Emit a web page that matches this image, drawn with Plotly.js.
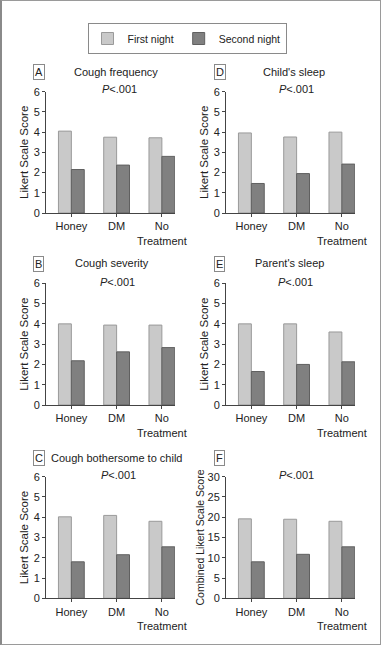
<!DOCTYPE html>
<html>
<head>
<meta charset="utf-8">
<script src="https://cdn.plot.ly/plotly-3.0.1.min.js"></script>
<style>
html,body{margin:0;padding:0;background:#fff;}
#wrap{position:relative;width:381px;height:645px;}
#chart{position:absolute;left:0;top:0;width:381px;height:645px;}
#frame{position:absolute;left:0;top:0;width:381px;height:645px;box-sizing:border-box;border:1px solid #9a9a9a;border-left:2px solid #8a8a8a;pointer-events:none;}
</style>
</head>
<body>
<div id="wrap"><div id="chart"></div><div id="frame"></div></div>
<script>
// ---- data ----
const categories = ["Honey", "DM", "No<br>Treatment"];
const seriesNames = ["First night", "Second night"];
const panelLetters = ["A", "D", "B", "E", "C", "F"];
const panelTitles = ["Cough frequency", "Child's sleep", "Cough severity", "Parent's sleep", "Cough bothersome to child", ""];
const yTitles = ["Likert Scale Score", "Likert Scale Score", "Likert Scale Score", "Likert Scale Score", "Likert Scale Score", "Combined Likert Scale Score"];
const pText = "<i>P</i>&lt;.001";
// values per panel (First night, Second night)
const coughFreqFirst = [4.05, 3.75, 3.72];
const coughFreqSecond = [2.15, 2.37, 2.8];
const childSleepFirst = [3.96, 3.76, 4.0];
const childSleepSecond = [1.46, 1.95, 2.42];
const coughSevFirst = [4.0, 3.94, 3.94];
const coughSevSecond = [2.18, 2.62, 2.83];
const parentSleepFirst = [4.0, 4.0, 3.6];
const parentSleepSecond = [1.65, 2.0, 2.13];
const botherFirst = [4.02, 4.09, 3.8];
const botherSecond = [1.8, 2.15, 2.54];
const combinedFirst = [19.6, 19.5, 19.0];
const combinedSecond = [9.0, 10.85, 12.7];
const yMax = [6, 6, 6, 6, 6, 30];
const yDtick = [1, 1, 1, 1, 1, 5];

// ---- layout geometry (pixels) ----
const W = 381, H = 645;
const colX = [[46, 175], [226, 355]];
const rowY = [[91.7, 213], [283.3, 405], [476.7, 598.3]];
const firstVals = [coughFreqFirst, childSleepFirst, coughSevFirst, parentSleepFirst, botherFirst, combinedFirst];
const secondVals = [coughFreqSecond, childSleepSecond, coughSevSecond, parentSleepSecond, botherSecond, combinedSecond];
const titleStandoff = [2, 2, 2, 2, 2, 0];
const titleSize = [11.5, 11.5, 11.5, 11.5, 11.5, 10.5];

const FONT = "'Liberation Sans', Arial, sans-serif";
const TXT = "#222";
const lightFill = "#c9c9c9", lightLine = "#9a9a9a";
const darkFill = "#808080", darkLine = "#606060";

const traces = [];
const layout = {
  width: W, height: H,
  margin: {l: 0, r: 0, t: 0, b: 0},
  paper_bgcolor: "#fff", plot_bgcolor: "#fff",
  font: {family: FONT, size: 11, color: TXT},
  barmode: "group", bargap: 0.43, bargroupgap: 0,
  showlegend: true,
  legend: {
    orientation: "h", x: 187 / W, xanchor: "center", y: 1 - 23 / H, yanchor: "top",
    bordercolor: "#8a8a8a", borderwidth: 1, bgcolor: "#fff",
    font: {family: FONT, size: 10.5, color: TXT}, itemwidth: 30, tracegroupgap: 0
  },
  annotations: [],
  shapes: []
};

const labelCenters = [[39, 72], [219.5, 72], [38.5, 264], [219, 264], [39, 458], [219, 458]];
const titleCenters = [[116.5, 72], [294, 72], [112, 263], [289.5, 263], [116.5, 458], [296, 458]];
const pCenters = [[119, 89], [296, 89], [117.5, 282], [295.5, 282], [118.5, 475], [296, 475]];

for (let i = 0; i < 6; i++) {
  const col = i % 2, row = Math.floor(i / 2);
  const sx = i === 0 ? "" : String(i + 1);
  const xa = "x" + sx, ya = "y" + sx;
  traces.push({
    type: "bar", name: seriesNames[0], x: categories, y: firstVals[i],
    xaxis: xa, yaxis: ya, legendgroup: "a", showlegend: i === 0,
    marker: {color: lightFill, line: {color: lightLine, width: 1}},
    hoverinfo: "y"
  });
  traces.push({
    type: "bar", name: seriesNames[1], x: categories, y: secondVals[i],
    xaxis: xa, yaxis: ya, legendgroup: "b", showlegend: i === 0,
    marker: {color: darkFill, line: {color: darkLine, width: 1}},
    hoverinfo: "y"
  });
  layout["xaxis" + sx] = {
    domain: [colX[col][0] / W, colX[col][1] / W],
    anchor: ya, type: "category", range: [-0.56, 2.29],
    showline: true, linecolor: "#444", linewidth: 1,
    ticks: "outside", ticklen: 3, tickcolor: "#444",
    showgrid: false, zeroline: false, fixedrange: true,
    tickfont: {family: FONT, size: 11, color: TXT}
  };
  layout["yaxis" + sx] = {
    domain: [1 - rowY[row][1] / H, 1 - rowY[row][0] / H],
    anchor: xa, range: [0, yMax[i]], dtick: yDtick[i], tick0: 0,
    showline: true, linecolor: "#444", linewidth: 1,
    ticks: "outside", ticklen: 3, tickcolor: "#444",
    showgrid: false, zeroline: false, fixedrange: true,
    tickfont: {family: FONT, size: 11, color: TXT},
    title: {text: yTitles[i], font: {family: FONT, size: titleSize[i], color: TXT}, standoff: titleStandoff[i]}
  };
  layout.annotations.push({
    xref: "paper", yref: "paper", x: labelCenters[i][0] / W, y: 1 - labelCenters[i][1] / H,
    text: panelLetters[i], showarrow: false, xanchor: "center", yanchor: "middle",
    bordercolor: "#8a8a8a", borderwidth: 1, borderpad: 1, bgcolor: "#fff",
    font: {family: FONT, size: 11, color: TXT}
  });
  if (panelTitles[i]) {
    layout.annotations.push({
      xref: "paper", yref: "paper", x: titleCenters[i][0] / W, y: 1 - titleCenters[i][1] / H,
      text: panelTitles[i], showarrow: false, xanchor: "center", yanchor: "middle",
      font: {family: FONT, size: 11, color: TXT}
    });
  }
  layout.annotations.push({
    xref: "paper", yref: "paper", x: pCenters[i][0] / W, y: 1 - pCenters[i][1] / H,
    text: pText, showarrow: false, xanchor: "center", yanchor: "middle",
    font: {family: FONT, size: 11, color: TXT}
  });
}

Plotly.newPlot("chart", traces, layout, {displayModeBar: false, staticPlot: true});
</script>
</body>
</html>
